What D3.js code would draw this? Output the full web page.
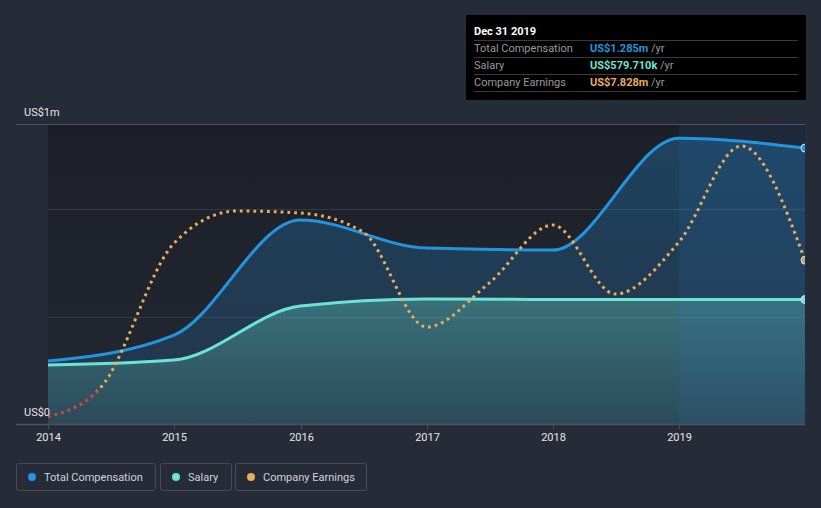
<!DOCTYPE html>
<html><head><meta charset="utf-8">
<script src="https://cdn.jsdelivr.net/npm/d3@7/dist/d3.min.js"></script>
<style>
html,body{margin:0;padding:0;background:#252b37;}
svg{display:block;font-family:Roboto,"Open Sans",sans-serif;}
</style></head>
<body><svg id="c" width="821" height="508"></svg>
<script>
// ---- data ----
const compDates = ["2013-12-31","2014-12-31","2015-12-31","2016-12-31","2017-12-31","2018-12-31","2019-12-31"];
const compValues = [0.293, 0.414, 0.950, 0.819, 0.810, 1.331, 1.285];      // US$m
const salaryValues = [0.275, 0.298, 0.549, 0.582, 0.580, 0.580, 0.5797];  // US$m
const earnDates = ["2013-12-31","2014-05-31","2014-12-31","2015-06-30","2015-12-31","2016-06-30","2016-12-31","2017-06-30","2017-12-31","2018-06-30","2018-12-31","2019-06-30","2019-12-31"];
const earnValues = [-1.56, 0.15, 8.85, 10.78, 10.66, 9.52, 3.82, 6.46, 9.94, 5.80, 8.92, 14.68, 7.828]; // US$m
const xTickLabels = ["2014","2015","2016","2017","2018","2019"];
const yLabels = ["US$0","US$1m"];
const legendItems = ["Total Compensation","Salary","Company Earnings"];
const tooltipTitle = "Dec 31 2019";
const tooltipRows = [["Total Compensation","US$1.285m"],["Salary","US$579.710k"],["Company Earnings","US$7.828m"]];

const C = {comp:"#2394df", sal:"#6de4d1", earn:"#e7ae5b", neg:"#e0413d", text:"#e6e6e6"};
const parse = d3.timeParse("%Y-%m-%d");
const comp = compDates.map((d,i)=>({date:parse(d), v:compValues[i]}));
const sal = compDates.map((d,i)=>({date:parse(d), v:salaryValues[i]}));
const earn = earnDates.map((d,i)=>({date:parse(d), v:earnValues[i]}));

const svg = d3.select("#c");
const L=48, R=805, T=124, B=424;
const x = d3.scaleTime().domain([parse("2013-12-31"), parse("2019-12-31")]).range([L,R]);
const y = d3.scaleLinear().domain([0,1.397]).range([B,T]);
const yE = d3.scaleLinear().domain([-2,16]).range([B,T]);

const defs = svg.append("defs");
const gBg = defs.append("linearGradient").attr("id","bgG").attr("x1",0).attr("y1",0).attr("x2",0).attr("y2",1);
gBg.append("stop").attr("offset","0%").attr("stop-color","#1c1f27");
gBg.append("stop").attr("offset","100%").attr("stop-color","#232834");
const gComp = defs.append("linearGradient").attr("id","compG").attr("x1",0).attr("y1",0).attr("x2",0).attr("y2",1);
gComp.append("stop").attr("offset","0%").attr("stop-color",C.comp).attr("stop-opacity",0.3);
gComp.append("stop").attr("offset","100%").attr("stop-color",C.comp).attr("stop-opacity",0.12);
const gSal = defs.append("linearGradient").attr("id","salG").attr("x1",0).attr("y1",0).attr("x2",0).attr("y2",1);
gSal.append("stop").attr("offset","0%").attr("stop-color",C.sal).attr("stop-opacity",0.32);
gSal.append("stop").attr("offset","100%").attr("stop-color",C.sal).attr("stop-opacity",0.12);

// plot background
svg.append("rect").attr("x",L).attr("y",T).attr("width",R-L).attr("height",B-T).attr("fill","url(#bgG)");

// gridlines
svg.append("line").attr("x1",16).attr("x2",R).attr("y1",T+0.5).attr("y2",T+0.5).attr("stroke","#4b515d").attr("stroke-width",1);
[0.5,1.0].forEach(v=>{
  svg.append("line").attr("x1",L).attr("x2",R).attr("y1",Math.round(y(v))+0.5).attr("y2",Math.round(y(v))+0.5)
    .attr("stroke","#3a404c").attr("stroke-width",1).attr("opacity",0.8);
});

const curve = d3.curveMonotoneX;
const area = d3.area().x(d=>x(d.date)).y0(B).y1(d=>y(d.v)).curve(curve);
const line = d3.line().x(d=>x(d.date)).y(d=>y(d.v)).curve(curve);
const lineE = d3.line().x(d=>x(d.date)).y(d=>yE(d.v)).curve(curve);

svg.append("path").datum(comp).attr("d",area).attr("fill","url(#compG)");
svg.append("path").datum(sal).attr("d",area).attr("fill","url(#salG)");

// last-year highlight band
svg.append("rect").attr("x",x(parse("2018-12-31"))).attr("y",T).attr("width",R-x(parse("2018-12-31"))).attr("height",B-T)
  .attr("fill","#2a7fd0").attr("opacity",0.11);

svg.append("path").datum(comp).attr("d",line).attr("fill","none").attr("stroke",C.comp).attr("stroke-width",3);
svg.append("path").datum(sal).attr("d",line).attr("fill","none").attr("stroke",C.sal).attr("stroke-width",3);

// earnings split at zero
const z = yE(0);
defs.append("clipPath").attr("id","posC").append("rect").attr("x",0).attr("y",0).attr("width",821).attr("height",z);
defs.append("clipPath").attr("id","negC").append("rect").attr("x",0).attr("y",z).attr("width",821).attr("height",508-z);
[["posC",C.earn],["negC",C.neg]].forEach(([clip,col])=>{
  svg.append("path").datum(earn).attr("d",lineE).attr("fill","none").attr("stroke",col)
    .attr("stroke-width",3).attr("stroke-dasharray","2.8 4").attr("clip-path",`url(#${clip})`);
});

// end markers
const last = d=>d[d.length-1];
[[comp,y,C.comp],[sal,y,C.sal],[earn,yE,"#c9a172"]].forEach(([d,sc,col])=>{
  svg.append("circle").attr("cx",x(last(d).date)).attr("cy",sc(last(d).v)).attr("r",4)
    .attr("fill",col).attr("stroke","#d8e4ee").attr("stroke-width",1);
});

// cover right edge
svg.append("rect").attr("x",R).attr("y",T-2).attr("width",821-R).attr("height",B-T+10).attr("fill","#252b37");

// x axis
svg.append("line").attr("x1",16).attr("x2",R).attr("y1",B+0.5).attr("y2",B+0.5).attr("stroke","#4b515d").attr("stroke-width",1.5);
const xTicks = xTickLabels.map(t=>parse(t+"-01-01"));
xTicks.forEach((t,i)=>{
  const px = Math.round(x(t))+0.5;
  svg.append("line").attr("x1",px).attr("x2",px).attr("y1",B).attr("y2",B+5).attr("stroke","#4b515d");
  svg.append("text").attr("x",px).attr("y",441).attr("text-anchor","middle").attr("fill",C.text)
    .attr("font-size",11).text(xTickLabels[i]);
});

// y labels
svg.append("text").attr("x",24).attr("y",116).attr("fill",C.text).attr("font-size",11).text(yLabels[1]);
svg.append("text").attr("x",24).attr("y",416).attr("fill",C.text).attr("font-size",11).text(yLabels[0]);

// tooltip
const tt = svg.append("g");
tt.append("rect").attr("x",466).attr("y",15).attr("width",340).attr("height",85).attr("fill","#000");
tt.append("text").attr("x",474).attr("y",35).attr("fill","#fff").attr("font-size",11).attr("font-weight","bold").text(tooltipTitle);
const rowCols = [C.comp,C.sal,C.earn];
[40.5,57.5,74.5,91.5].forEach(yy=>tt.append("line").attr("x1",474).attr("x2",798).attr("y1",yy).attr("y2",yy).attr("stroke","#3a3a3a"));
tooltipRows.forEach((r,i)=>{
  const yy = 52+i*17;
  tt.append("text").attr("x",474).attr("y",yy).attr("fill","#9a9a9a").attr("font-size",11).text(r[0]);
  const t = tt.append("text").attr("x",590).attr("y",yy).attr("font-size",11);
  t.append("tspan").attr("fill",rowCols[i]).attr("font-weight","bold").text(r[1]);
  t.append("tspan").attr("fill","#9a9a9a").text(" /yr");
});

// legend
const lg = svg.append("g");
const boxes = [[16,139],[160,71],[235,131]];
const lcols = [C.comp,C.sal,C.earn];
legendItems.forEach((name,i)=>{
  const [bx,bw] = boxes[i];
  lg.append("rect").attr("x",bx+0.5).attr("y",463.5).attr("width",bw).attr("height",27).attr("rx",2)
    .attr("fill","none").attr("stroke","#454b57");
  lg.append("circle").attr("cx",bx+16).attr("cy",477).attr("r",4).attr("fill",lcols[i]);
  lg.append("text").attr("x",bx+28).attr("y",481).attr("fill","#d0d3d8").attr("font-size",11).text(name);
});
</script></body></html>
